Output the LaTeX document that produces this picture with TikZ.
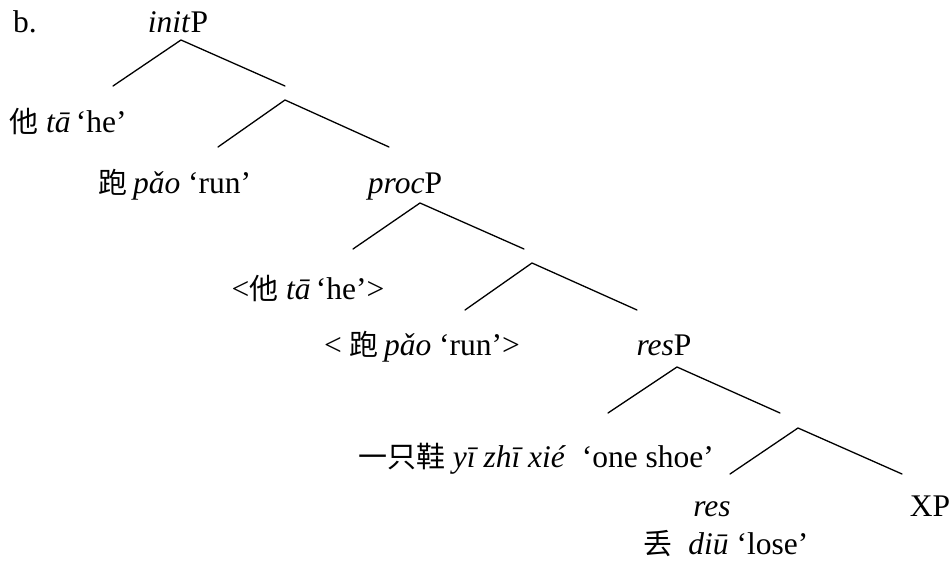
\documentclass[tikz,border=0pt]{standalone}
\usepackage{fontspec}
\setmainfont{Liberation Serif}
\newfontfamily\cjk{Noto Sans CJK SC}[Scale=0.92]
\begin{document}
\begin{tikzpicture}[x=1pt,y=-1pt,
  lbl/.style={anchor=base,inner sep=0pt,font=\fontsize{31.5}{36}\selectfont},
  branch/.style={line width=1.3pt,line cap=round}]
\useasboundingbox (0,0) rectangle (951,561);
% texts
\node[lbl] (b) at (25,33) {b.};
\node[lbl] (init) at (178,33) {\textit{init}P};
\node[lbl] (ta) at (68,133) {{\cjk 他} \textit{tā}\,‘he’};
\node[lbl] (pao) at (175,194) {{\cjk 跑}\,\textit{pǎo} ‘run’};
\node[lbl] (proc) at (405,194) {\textit{proc}P};
\node[lbl] (ta2) at (308,300) {<{\cjk 他} \textit{tā}\,‘he’>};
\node[lbl] (pao2) at (422,356) {< {\cjk 跑}\,\textit{pǎo} ‘run’>};
\node[lbl] (resP) at (664,356) {\textit{res}P};
\node[lbl] (shoe) at (536,467) {{\cjk 一只鞋} \textit{yī zhī xié}\ \ ‘one shoe’};
\node[lbl] (res) at (712,516) {\textit{res}};
\node[lbl] (XP) at (930,516) {XP};
\node[lbl] (diu) at (726,554) {{\cjk 丢}\ \ \textit{diū} ‘lose’};
% branch points
\coordinate (t1) at (181,40);  \coordinate (l1) at (113,86);  \coordinate (r1) at (285,86);
\coordinate (t2) at (285,100); \coordinate (l2) at (218,147); \coordinate (r2) at (389,147);
\coordinate (t3) at (420,203); \coordinate (l3) at (353,249); \coordinate (r3) at (524,249);
\coordinate (t4) at (532,263); \coordinate (l4) at (465,310); \coordinate (r4) at (637,310);
\coordinate (t5) at (677,367); \coordinate (l5) at (608,413); \coordinate (r5) at (780,413);
\coordinate (t6) at (798,428); \coordinate (l6) at (730,474); \coordinate (r6) at (902,474);
\foreach \i in {1,...,6}{\draw[branch] (l\i) -- (t\i) -- (r\i);}
\end{tikzpicture}
\end{document}
